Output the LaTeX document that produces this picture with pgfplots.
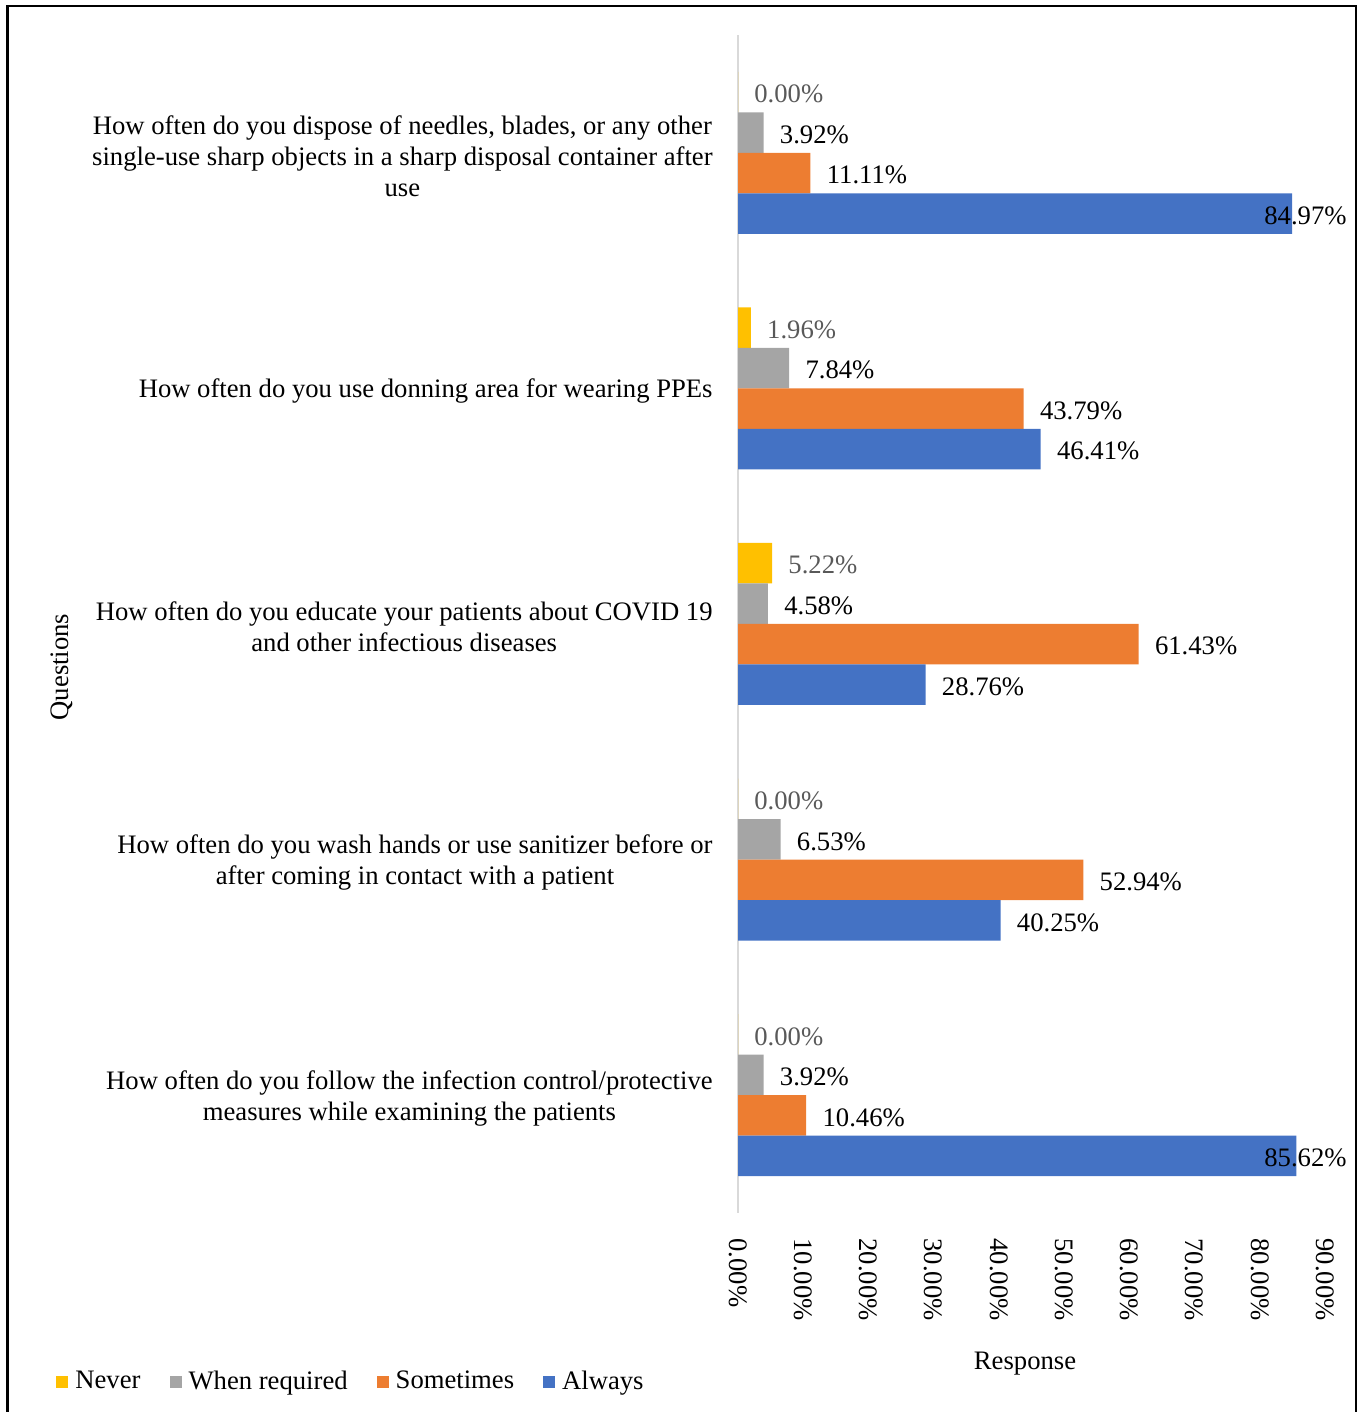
\documentclass[border=0pt]{standalone}
\usepackage{pgfplots}
\pgfplotsset{compat=1.18}
\usepackage{fontspec}
\setmainfont{Liberation Serif}
\definecolor{cBlue}{HTML}{4472C4}
\definecolor{cOrange}{HTML}{ED7D31}
\definecolor{cGray}{HTML}{A5A5A5}
\definecolor{cYellow}{HTML}{FFC000}
\definecolor{cLab}{HTML}{595959}
\definecolor{cAxis}{HTML}{D9D9D9}
\begin{document}
\fontsize{13.33pt}{15.5pt}\selectfont
\begin{tikzpicture}
\useasboundingbox (0,0) rectangle (681.5pt,706pt);
\draw[line width=1.2pt] (3.8pt,-5pt) -- (3.8pt,703pt) -- (678pt,703pt) -- (678pt,-5pt);
\begin{axis}[
  at={(369pt,99.5pt)}, anchor=south west,
  scale only axis, width=293.5pt, height=589pt,
  xbar, bar width=20.25pt,
  xmin=0, xmax=90, ymin=-0.5, ymax=4.5,
  /pgf/number format/assume math mode=true,
  axis x line*=bottom, axis y line*=left,
  x axis line style={draw=none},
  y axis line style={draw=cAxis, line width=1pt},
  tick style={draw=none}, major tick length=0pt,
  xtick={0,10,...,90},
  xticklabel={\pgfmathprintnumber[fixed,fixed zerofill,precision=2,assume math mode=true]{\tick}\%},
  xticklabel style={rotate=-90, anchor=west, inner sep=0pt},
  xticklabel shift=12.5pt,
  ytick={0,1,2,3,4},
  yticklabels={
    {How often do you follow the infection control/protective\\measures while examining the patients},
    {How often do you wash hands or use sanitizer before or\\after coming in contact with a patient},
    {How often do you educate your patients about COVID 19\\and other infectious diseases},
    {How often do you use donning area for wearing PPEs},
    {How often do you dispose of needles, blades, or any other\\single-use sharp objects  in a sharp disposal container after\\use}},
  yticklabel style={align=center, anchor=east, inner sep=0pt, yshift=-1.5pt},
  yticklabel shift=12.5pt,
  xlabel={Response},
  x label style={at={(axis description cs:0.489,-0.1282)}, anchor=center},
  ylabel={Questions},
  y label style={at={(axis description cs:-1.1516,0.4635)}, anchor=center},
  legend columns=4,
  legend style={at={(axis description cs:-1.1618,-0.1435)}, anchor=west, draw=none, fill=none,
    inner sep=0pt, nodes={inner sep=0pt},
    /tikz/every odd column/.append style={column sep=3.5pt},
    /tikz/every even column/.append style={column sep=14.5pt}},
  legend image code/.code={\fill[#1] (0pt,-3pt) rectangle (6pt,3pt);},
  nodes near coords={\pgfmathprintnumber[fixed,fixed zerofill,precision=2,assume math mode=true]{\pgfplotspointmeta}\%},
  point meta=x,
  visualization depends on={x \as \rawx},
  every node near coord/.append style={anchor=west, inner sep=0pt, text=black, yshift=-1pt,
    xshift={min(8,263-3.2611*\rawx)}},
]
\addplot[fill=cYellow, draw=none, bar shift=30.375pt,
  every node near coord/.append style={text=cLab}]
  coordinates {(0,0) (0,1) (5.22,2) (1.96,3) (0,4)};
\addlegendentry{Never}
\addplot[fill=cGray, draw=none, bar shift=10.125pt]
  coordinates {(3.92,0) (6.53,1) (4.58,2) (7.84,3) (3.92,4)};
\addlegendentry{When required}
\addplot[fill=cOrange, draw=none, bar shift=-10.125pt]
  coordinates {(10.46,0) (52.94,1) (61.43,2) (43.79,3) (11.11,4)};
\addlegendentry{Sometimes}
\addplot[fill=cBlue, draw=none, bar shift=-30.375pt]
  coordinates {(85.62,0) (40.25,1) (28.76,2) (46.41,3) (84.97,4)};
\addlegendentry{Always}
\end{axis}
\end{tikzpicture}
\end{document}
